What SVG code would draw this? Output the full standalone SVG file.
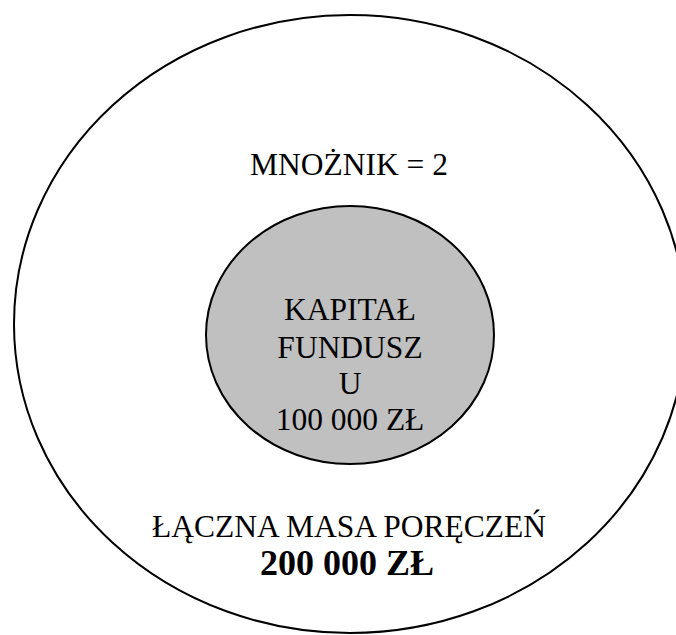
<svg xmlns="http://www.w3.org/2000/svg" width="676" height="635" viewBox="0 0 676 635">
<style>
.t{font-family:"Liberation Serif","Times New Roman",serif;font-size:31.5px;fill:#000;text-anchor:middle}
.b{font-weight:bold;font-size:36px}
.o{fill:none;stroke:#000;stroke-width:2}
.i{fill:#C0C0C0;stroke:#000;stroke-width:2}
</style>
<rect width="676" height="635" fill="#fff"/>
<g id="outer">
<ellipse class="o" cx="350" cy="324" rx="336" ry="309"/>
<text class="t" x="349" y="175">MNOŻNIK = 2</text>
<text class="t" x="349" y="537">ŁĄCZNA MASA PORĘCZEŃ</text>
<text class="t b" x="347" y="575">200 000 ZŁ</text>
</g>
<g id="inner">
<ellipse class="i" cx="350" cy="335" rx="144" ry="129"/>
<text class="t" x="350" y="320">KAPITAŁ</text>
<text class="t" x="350" y="358">FUNDUSZ</text>
<text class="t" x="350" y="394">U</text>
<text class="t" x="350" y="430">100 000 ZŁ</text>
</g>
<g id="connectors"/>
</svg>
